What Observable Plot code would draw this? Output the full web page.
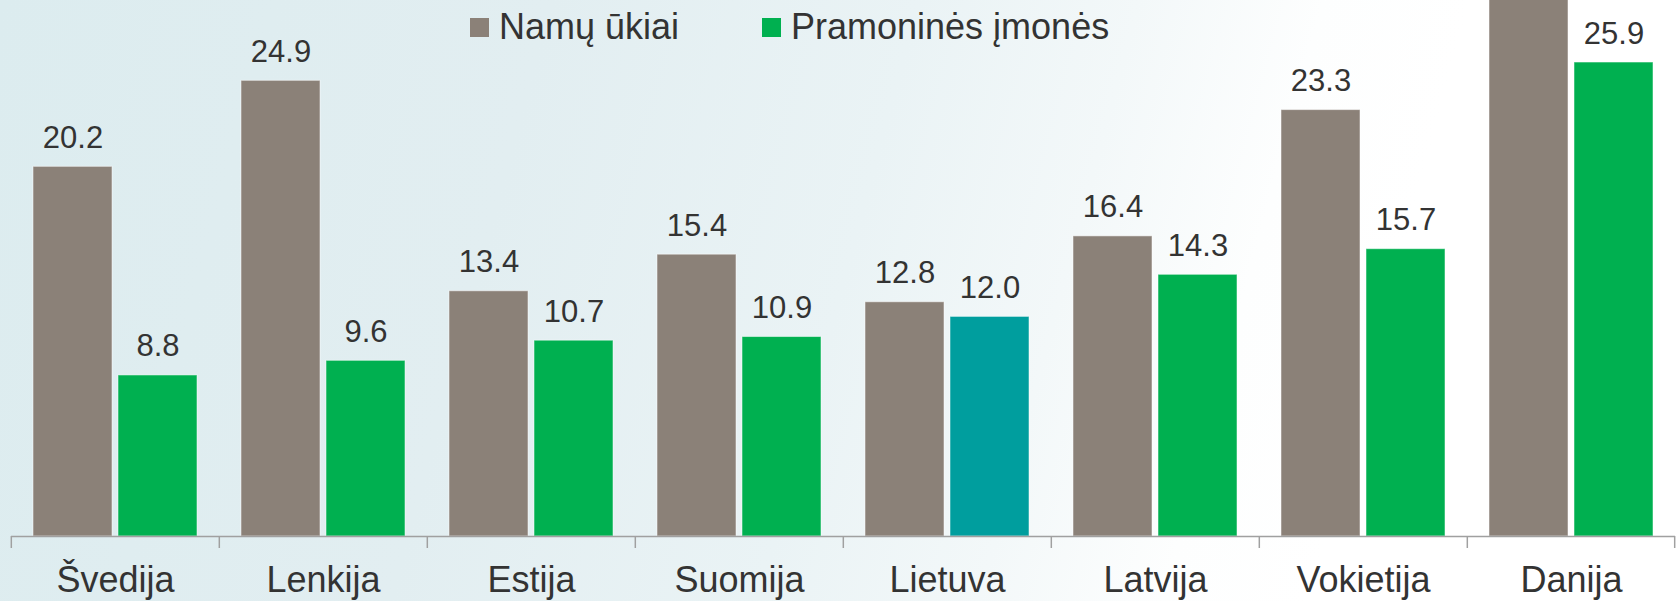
<!DOCTYPE html>
<html>
<head>
<meta charset="utf-8">
<script src="https://cdn.jsdelivr.net/npm/d3@7"></script>
<script src="https://cdn.jsdelivr.net/npm/@observablehq/plot@0.6"></script>
<style>
  html, body { margin: 0; padding: 0; overflow: hidden; }
  body {
    width: 1677px; height: 601px; position: relative;
    font-family: "Liberation Sans", Arial, sans-serif;
    background: linear-gradient(105deg, #dcecef 0%, #e2eef1 30%, #eaf3f5 50%, #f3f8f9 62%, #fdfefe 72%, #ffffff 80%);
  }
  #chart { position: absolute; left: 0; top: 0; width: 1677px; height: 601px; overflow: hidden; }
  #legend { position: absolute; left: 0; top: 0; width: 1677px; height: 50px; pointer-events: none; }
  .lg-item { position: absolute; top: 5px; display: flex; align-items: center; font-size: 36px; color: #333; line-height: 44px; white-space: nowrap; }
  .lg-sw { width: 19px; height: 19px; margin-right: 10px; display: inline-block; }
</style>
</head>
<body>
<div id="chart"></div>
<div id="legend"></div>
<script>
// ---- data ----
const countries = ["Švedija", "Lenkija", "Estija", "Suomija", "Lietuva", "Latvija", "Vokietija", "Danija"];
const seriesNames = ["Namų ūkiai", "Pramoninės įmonės"];
const householdValues = [20.2, 24.9, 13.4, 15.4, 12.8, 16.4, 23.3, 30.6];
const industryValues  = [8.8, 9.6, 10.7, 10.9, 12.0, 14.3, 15.7, 25.9];
const seriesColors = ["#8b8178", "#00b050"];
const highlightCountry = "Lietuva";
const highlightColor = "#009e9e";

const data = [];
countries.forEach((c, i) => {
  data.push({country: c, series: seriesNames[0], value: householdValues[i]});
  data.push({country: c, series: seriesNames[1], value: industryValues[i]});
});
const fillOf = d => (d.country === highlightCountry && d.series === seriesNames[1])
  ? highlightColor : seriesColors[seriesNames.indexOf(d.series)];

const W = 1677, H = 601, mL = 9, mR = 1, mT = 0, mB = 65;
const step = (W - mL - mR) / countries.length;
const yMax = (H - mT - mB) / 18.3;
// labels of bars that run past the top of the chart are cut off in the original
const labelData = data.filter(d => d.value < yMax - 2.5);

const plot = Plot.plot({
  width: W, height: H,
  marginLeft: mL, marginRight: mR, marginTop: mT, marginBottom: mB,
  style: {background: "transparent", fontFamily: "'Liberation Sans', Arial, sans-serif", overflow: "hidden"},
  fx: {domain: countries, padding: 0, label: null},
  x: {domain: seriesNames, paddingInner: 0.07, paddingOuter: 0.247, axis: null},
  y: {domain: [0, yMax], axis: null},
  color: {type: "identity"},
  marks: [
    Plot.barY(data, {fx: "country", x: "series", y: "value", fill: fillOf,
      stroke: "#ffffff", strokeOpacity: 0.5, strokeWidth: 1, clip: "frame"}),
    Plot.text(labelData, {fx: "country", x: "series", y: "value", text: d => d.value.toFixed(1),
      lineAnchor: "bottom", dy: -19, fontSize: 31, fill: "#333333"}),
    Plot.ruleY([0], {stroke: "#a0a0a0", strokeWidth: 1.5}),
    Plot.axisFx({anchor: "bottom", tickSize: 12, tickFormat: () => "", dx: -step / 2,
      stroke: "#a0a0a0", strokeWidth: 1.5, label: null}),
    Plot.axisFx({anchor: "bottom", ticks: [countries[countries.length - 1]], tickSize: 12,
      tickFormat: () => "", dx: step / 2 - 1, stroke: "#a0a0a0", strokeWidth: 1.5, label: null}),
    Plot.axisFx({anchor: "bottom", tickSize: 0, tickPadding: 30, fontSize: 36,
      fill: "#333333", label: null})
  ]
});
document.getElementById("chart").appendChild(plot);

// legend
const legend = document.getElementById("legend");
const legendX = [470, 762];
seriesNames.forEach((s, i) => {
  const item = document.createElement("div");
  item.className = "lg-item";
  item.style.left = legendX[i] + "px";
  const sw = document.createElement("span");
  sw.className = "lg-sw";
  sw.style.background = seriesColors[i];
  const tx = document.createElement("span");
  tx.textContent = s;
  item.appendChild(sw);
  item.appendChild(tx);
  legend.appendChild(item);
});
</script>
</body>
</html>
